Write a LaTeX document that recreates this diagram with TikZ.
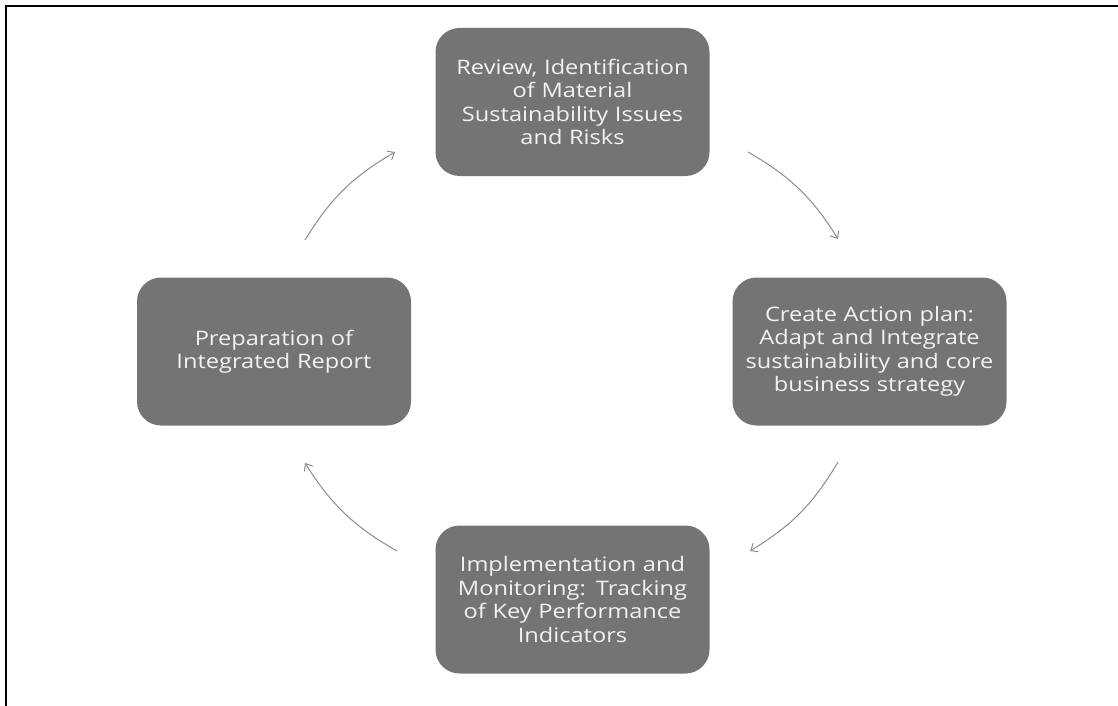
\documentclass[tikz,border=0pt]{standalone}
\usepackage{fontspec}
\setmainfont{Open Sans}[FakeStretch=1.18]
\usetikzlibrary{arrows.meta}
\definecolor{boxgray}{RGB}{116,116,116}
\definecolor{txtgray}{RGB}{242,242,242}
\definecolor{arrgray}{RGB}{140,140,140}
\begin{document}
\begin{tikzpicture}[x=1pt,y=-1pt,
  stagebox/.style={draw=none, fill=boxgray, rounded corners=24pt,
    minimum width=274pt, minimum height=148pt, text width=270pt, align=center,
    text=txtgray, font=\fontsize{20}{23.5}\selectfont, inner sep=0pt},
  cyclearrow/.style={draw=arrgray, line width=1pt, -{Straight Barb[length=6pt,width=10pt]}}]
\useasboundingbox (0,0) rectangle (1118,706);
\draw[line width=2pt, line cap=rect] (6,706) -- (6,6) -- (1118,6);
\node[stagebox] (top) at (572.5,102) {Review, Identification\\of Material\\Sustainability Issues\\and Risks};
\node[stagebox] (right) at (869.5,351.5) {Create Action plan:\\Adapt and Integrate\\sustainability and core\\business strategy};
\node[stagebox] (bottom) at (572.5,599.5) {Implementation and\\Monitoring: Tracking\\of Key Performance\\Indicators};
\node[stagebox] (left) at (274,351.5) {Preparation of\\Integrated Report};
\coordinate (a1s) at (748,152); \coordinate (a1e) at (838,239);
\coordinate (a2s) at (838,462); \coordinate (a2e) at (750,551);
\coordinate (a3s) at (397,551); \coordinate (a3e) at (305,463);
\coordinate (a4s) at (305,240); \coordinate (a4e) at (395,152);
\draw[cyclearrow] (a1s) to[bend left=14] (a1e);
\draw[cyclearrow] (a2s) to[bend left=14] (a2e);
\draw[cyclearrow] (a3s) to[bend left=14] (a3e);
\draw[cyclearrow] (a4s) to[bend left=14] (a4e);
\end{tikzpicture}
\end{document}
